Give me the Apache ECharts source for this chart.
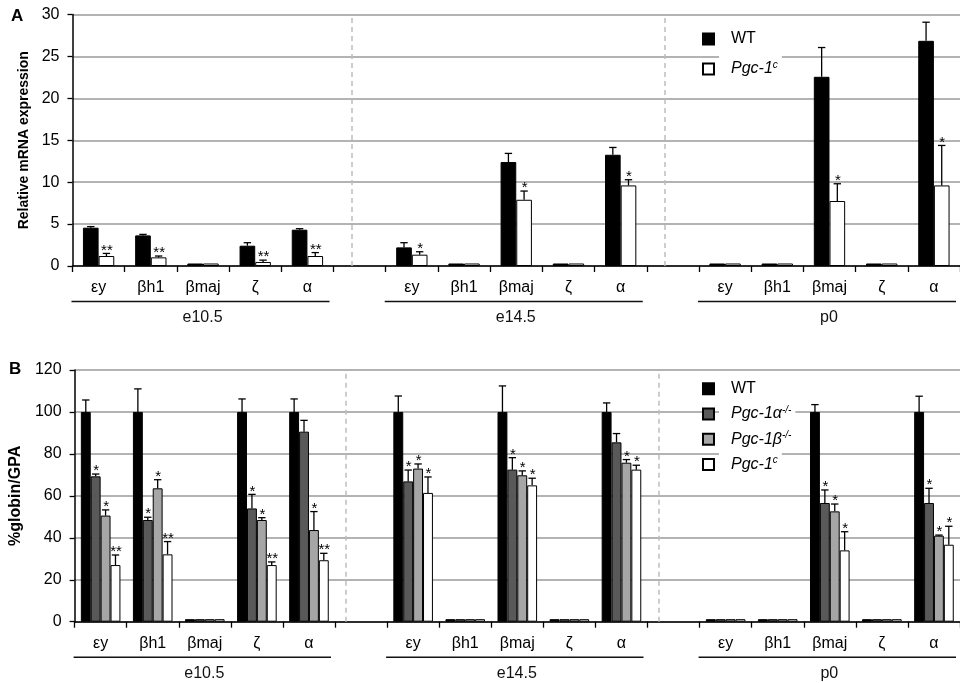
<!DOCTYPE html>
<html><head><meta charset="utf-8">
<script src="https://cdn.jsdelivr.net/npm/echarts@6/dist/echarts.min.js"></script>
<style>html,body{margin:0;padding:0;background:#fff}#c{width:960px;height:683px}</style>
</head><body><div id="c"></div>
<script>
// ---------- data ----------
const genes = ['εy','βh1','βmaj','ζ','α'];
const stages = ['e10.5','e14.5','p0'];
const yTicksA = [0,5,10,15,20,25,30];
const yTicksB = [0,20,40,60,80,100,120];

// Panel A (Relative mRNA expression), 15 values: e10.5 x5, e14.5 x5, p0 x5
const A_WT      = [4.57,3.65,0.3,2.42,4.33, 2.22,0.3,12.4,0.3,13.27, 0.3,0.3,22.57,0.3,26.86];
const A_WT_sd   = [0.13,0.12,null,0.36,0.12, 0.56,null,1.03,null,0.87, null,null,3.49,null,2.22];
const A_C       = [1.19,1.03,0.3,0.48,1.19, 1.35,0.3,7.9,0.3,9.61, 0.3,0.3,7.75,0.3,9.61];
const A_C_sd    = [0.31,0.16,null,0.22,0.41, 0.35,null,1.04,null,0.68, null,null,2.06,null,4.77];
const A_C_sig   = ['**','**','','**','**', '*','','*','','*', '','','*','','*'];

// Panel B (%globin/GPA)
const B_WT      = [100,100,1.2,100,100, 100,1.2,100,1.2,100, 1.2,1.2,100,1.2,100];
const B_WT_sd   = [5.7,11,null,6.2,6.2, 7.6,null,12.4,null,4.3, null,null,3.5,null,7.5];
const B_A       = [69.3,48.5,1.2,54.0,90.6, 66.9,1.2,72.5,1.2,85.5, 1.2,1.2,56.6,1.2,56.6];
const B_A_sd    = [1.1,1.3,null,6.7,5.4, 5.4,null,5.7,null,4.2, null,null,6.2,null,7.0];
const B_A_sig   = ['*','*','','*','', '*','','*','','', '','','*','','*'];
const B_B       = [50.6,63.6,1.2,48.5,43.7, 73.0,1.2,69.8,1.2,75.8, 1.2,1.2,52.6,1.2,41.0];
const B_B_sd    = [2.7,4.1,null,1.1,8.8, 2.2,null,2.1,null,1.5, null,null,3.5,null,0.3];
const B_B_sig   = ['*','*','','*','*', '*','','*','','*', '','','*','','*'];
const B_C       = [27.0,32.1,1.2,27.0,29.3, 61.4,1.2,65.0,1.2,72.5, 1.2,1.2,34.0,1.2,36.7];
const B_C_sd    = [4.8,6.1,null,1.5,3.3, 7.6,null,3.4,null,2.1, null,null,8.9,null,8.8];
const B_C_sig   = ['**','**','','**','**', '*','','*','','*', '','','*','','*'];

// ---------- helpers ----------
const FONT = '"Liberation Sans", Arial, sans-serif';
const xCats = [...genes, '', ...genes, '', ...genes];
function pad(a){ return [...a.slice(0,5), null, ...a.slice(5,10), null, ...a.slice(10,15)]; }
function idx17(i){ return i + Math.floor(i/5); }
const groups = [[0,4,0],[6,10,1],[12,16,2]];

function errData(list){
  const out = [];
  list.forEach(([m, sd, sig], k) => {
    m.forEach((v, i) => {
      if (sd[i] == null) return;
      out.push({value:[idx17(i), v, v + sd[i], k], star: sig ? sig[i] : ''});
    });
  });
  return out;
}

function errSeries(gi, list, frac){
  const data = errData(list);
  const n = list.length;
  return {
    type:'custom', xAxisIndex:gi, yAxisIndex:gi, z:5, silent:true, clip:false,
    encode:{x:0, y:[1,2]},
    data: data,
    renderItem(params, api){
      const i = api.value(0), mean = api.value(1), top = api.value(2), k = api.value(3);
      const band = api.size([1,0])[0];
      const bw = band*frac;
      const p0 = api.coord([i, mean]);
      const cx = p0[0] + (k - (n-1)/2)*bw;
      const yt = api.coord([i, top])[1];
      const ls = {stroke:'#000', lineWidth:1.3};
      const star = data[params.dataIndex].star;
      const ch = [
        {type:'line', shape:{x1:cx, y1:p0[1], x2:cx, y2:yt}, style:ls},
        {type:'line', shape:{x1:cx-3.7, y1:yt, x2:cx+3.7, y2:yt}, style:ls}
      ];
      if (star) ch.push({type:'text', style:{text:star, x:cx+0.5, y:yt-3, align:'center', verticalAlign:'middle',
        fontSize:15, fontFamily:FONT, fill:'#000'}});
      return {type:'group', children:ch};
    }
  };
}

function groupSeries(gi){
  return {
    type:'custom', xAxisIndex:gi, yAxisIndex:gi, silent:true, clip:false,
    encode:{x:[0,1]},
    data: groups,
    renderItem(params, api){
      const s = api.value(0), e = api.value(1), g = api.value(2);
      const band = api.size([1,0])[0];
      const ps = api.coord([s,0]), pe = api.coord([e,0]);
      const x1 = ps[0] - band/2 - 1, x2 = pe[0] + band/2 - 4;
      const y0 = ps[1];
      return {type:'group', children:[
        {type:'line', shape:{x1:x1, y1:y0+35.5, x2:x2, y2:y0+35.5}, style:{stroke:'#111', lineWidth:1.5}},
        {type:'text', style:{text:stages[g], x:(x1+x2)/2 + 2, y:y0+52, align:'center', verticalAlign:'middle',
          fontSize:16, fontFamily:FONT, fill:'#111'}}
      ]};
    }
  };
}

const dashLine = {
  silent:true, symbol:'none', label:{show:false}, animation:false,
  lineStyle:{type:[5,4], color:'#bdbdbd', width:1.5},
  data:[{xAxis:5},{xAxis:11}]
};

function barSeries(gi, name, data, color, width, mark){
  const s = {type:'bar', name, xAxisIndex:gi, yAxisIndex:gi, data:pad(data), barWidth:width, barGap:'0%',
    itemStyle:{color, borderColor:'#000', borderWidth:1}, z:3};
  if (mark) s.markLine = dashLine;
  return s;
}

const legendRich = {
  'WT':'{n|WT}',
  'Pgc-1α-/-':'{i|Pgc-1α}{s|-/-}',
  'Pgc-1β-/-':'{i|Pgc-1β}{s|-/-}',
  'Pgc-1c':'{i|Pgc-1}{s|c}'
};
function legendStyle(padV){
  return {
    fontSize:16, fontFamily:FONT, color:'#000', lineHeight:18,
    backgroundColor:'#fff', padding:[padV, 4, padV, 12],
    rich:{
      n:{fontSize:16, fontFamily:FONT, color:'#000', lineHeight:18},
      i:{fontSize:16, fontFamily:FONT, fontStyle:'italic', color:'#000', lineHeight:18},
      s:{fontSize:10, fontFamily:FONT, fontStyle:'italic', color:'#000', lineHeight:10, verticalAlign:'top'}
    }
  };
}

function xAxis(gi){
  return {type:'category', gridIndex:gi, data:xCats, boundaryGap:true,
    axisLine:{lineStyle:{color:'#000', width:1.5}},
    axisTick:{show:true, length:6, interval:0, lineStyle:{color:'#000', width:1.3}},
    axisLabel:{interval:0, margin:14, fontSize:16, fontFamily:FONT, color:'#000'},
    splitLine:{show:false}};
}
function yAxis(gi, max, step, name, nameSize, gap){
  return {type:'value', gridIndex:gi, min:0, max:max, interval:step,
    name:name, nameLocation:'middle', nameGap:gap, nameRotate:90,
    nameTextStyle:{fontSize:nameSize, fontWeight:'bold', fontFamily:FONT, color:'#000'},
    axisLine:{show:true, lineStyle:{color:'#000', width:1.5}},
    axisTick:{show:true, length:5, lineStyle:{color:'#000', width:1.3}},
    axisLabel:{margin:13, fontSize:16, fontFamily:FONT, color:'#000'},
    splitLine:{show:true, lineStyle:{color:'#9a9a9a', width:1.5}}};
}

const chart = echarts.init(document.getElementById('c'), null, {renderer:'canvas'});
chart.setOption({
  animation:false,
  backgroundColor:'#fff',
  textStyle:{fontFamily:FONT},
  title:[
    {text:'A', left:11, top:8, padding:0, textStyle:{fontSize:17, fontWeight:'bold', fontFamily:FONT, color:'#000'}},
    {text:'B', left:9, top:361, padding:0, textStyle:{fontSize:17, fontWeight:'bold', fontFamily:FONT, color:'#000'}}
  ],
  grid:[
    {left:72.5, top:14.5, width:891.5, height:251.5},
    {left:72.5, top:370, width:891.5, height:251.7}
  ],
  xAxis:[xAxis(0), xAxis(1)],
  yAxis:[
    yAxis(0, yTicksA[yTicksA.length-1], yTicksA[1]-yTicksA[0], 'Relative mRNA expression', 14, 40),
    yAxis(1, yTicksB[yTicksB.length-1], yTicksB[1]-yTicksB[0], '%globin/GPA', 16, 42)
  ],
  legend:[
    {orient:'vertical', left:702, top:24, padding:0, itemGap:0, itemWidth:11, itemHeight:11, icon:'rect',
     data:['WT','Pgc-1c'], formatter:n=>legendRich[n], textStyle:legendStyle(6), selectedMode:false},
    {orient:'vertical', left:702, top:376, padding:0, itemGap:0, itemWidth:11, itemHeight:11, icon:'rect',
     data:['WT','Pgc-1α-/-','Pgc-1β-/-','Pgc-1c'], formatter:n=>legendRich[n], textStyle:legendStyle(3.65), selectedMode:false}
  ],
  series:[
    barSeries(0,'WT',A_WT,'#000','30%',true),
    barSeries(0,'Pgc-1c',A_C,'#fff','30%',false),
    errSeries(0, [[A_WT,A_WT_sd,null],[A_C,A_C_sd,A_C_sig]], 0.30),
    groupSeries(0),
    barSeries(1,'WT',B_WT,'#000','19%',true),
    barSeries(1,'Pgc-1α-/-',B_A,'#595959','19%',false),
    barSeries(1,'Pgc-1β-/-',B_B,'#a6a6a6','19%',false),
    barSeries(1,'Pgc-1c',B_C,'#fff','19%',false),
    errSeries(1, [[B_WT,B_WT_sd,null],[B_A,B_A_sd,B_A_sig],[B_B,B_B_sd,B_B_sig],[B_C,B_C_sd,B_C_sig]], 0.19),
    groupSeries(1)
  ]
});
</script>
</body></html>
